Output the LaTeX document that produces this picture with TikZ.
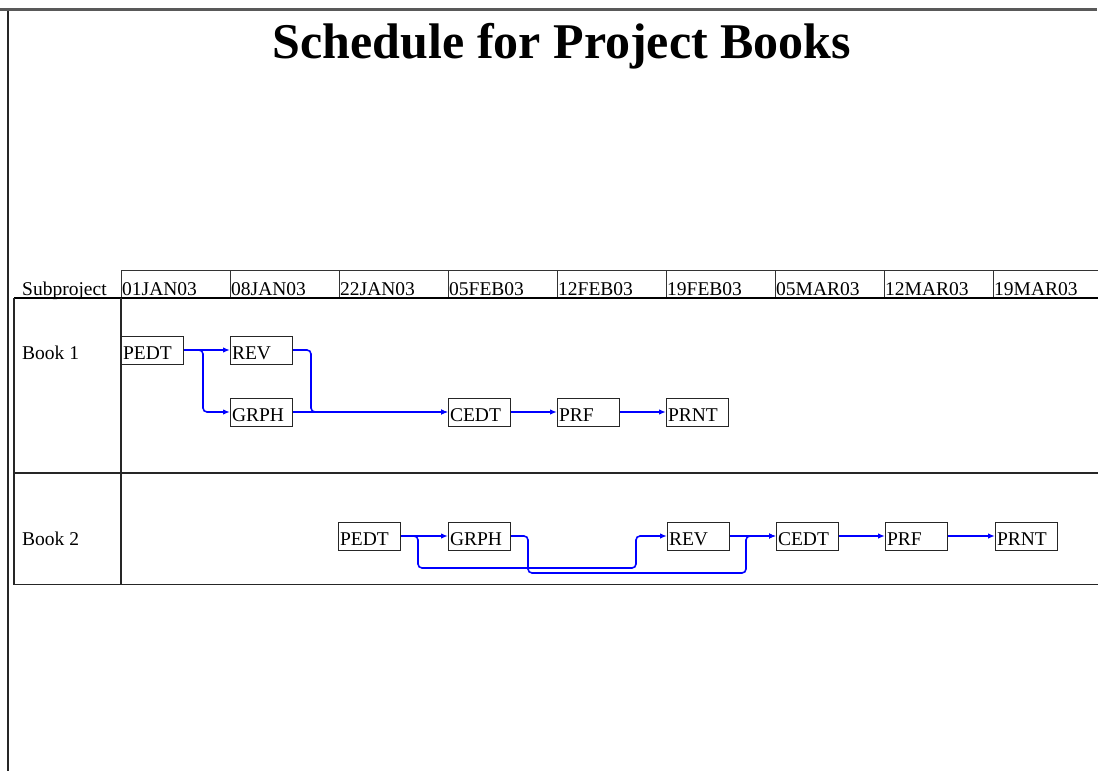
\documentclass[tikz,border=0pt]{standalone}
\usepackage{fontspec}
\setmainfont{Liberation Serif}
\usetikzlibrary{arrows.meta,calc}
\begin{document}
\begin{tikzpicture}[x=1pt,y=-1pt,
  rule/.style={draw=black!85,line width=1.2pt},
  cell/.style={anchor=base west,inner sep=0pt,font=\fontsize{19.5}{20}\selectfont},
  task/.style={draw=black!85,line width=1pt,anchor=north west,inner xsep=1.5pt,inner ysep=0pt,
    text width=59pt,align=left,text height=23.5pt,text depth=4.5pt,
    font=\fontsize{19.5}{20}\selectfont},
  conn/.style={draw=blue,line width=1.6pt,rounded corners=4pt,
    -{Latex[length=7pt,width=5.5pt]}}]
\useasboundingbox (0,0) rectangle (1098,771);
\fill[white] (0,0) rectangle (1098,771);

% page frame
\draw[draw=black!65,line width=2.2pt] (0,9.5) -- (1097,9.5);
\draw[draw=black!85,line width=1.6pt] (8,10.5) -- (8,771);

% title
\node[anchor=base,inner sep=0pt,font=\bfseries\fontsize{50}{52}\selectfont] (title) at (562,58) {Schedule for Project Books};

% header row
\draw[draw=black!80,line width=1pt] (121,270) -- (1098,270);
\foreach \x in {121,230,339,448,557,666,775,884,993}
  \draw[draw=black!80,line width=1pt] (\x,270) -- (\x,298);
\draw[draw=black,line width=1.8pt] (14,298) -- (1098,298);
\node[cell] (hsub) at (22,295) {Subproject};
\foreach \x/\d [count=\i] in {121/01JAN03,230/08JAN03,339/22JAN03,448/05FEB03,557/12FEB03,666/19FEB03,775/05MAR03,884/12MAR03,993/19MAR03}
  \node[cell] (h\i) at (\x+1,295) {\d};

% body grid
\draw[rule] (14,298) -- (14,584.5) -- (1098,584.5);
\draw[rule] (121,298) -- (121,584.5);
\draw[rule] (14,473) -- (1098,473);

% row labels
\node[cell] (book1) at (22,359.5) {Book 1};
\node[cell] (book2) at (22,545.5) {Book 2};

% tasks of Book 1
\node[task] (pa) at (121,335.5) {PEDT};
\node[task] (ra) at (230,335.5) {REV};
\node[task] (ga) at (230,397.5) {GRPH};
\node[task] (ca) at (448,397.5) {CEDT};
\node[task] (fa) at (557,397.5) {PRF};
\node[task] (na) at (666,397.5) {PRNT};

% tasks of Book 2
\node[task] (pb) at (338,521.5) {PEDT};
\node[task] (gb) at (448,521.5) {GRPH};
\node[task] (rb) at (667,521.5) {REV};
\node[task] (cb) at (776,521.5) {CEDT};
\node[task] (fb) at (885,521.5) {PRF};
\node[task] (nb) at (995,521.5) {PRNT};

% dependencies of Book 1
\draw[conn] (pa.east) -- (ra.west);
\draw[conn] (pa.east) -- ++(19,0) |- (ga.west);
\draw[conn] (ra.east) -- ++(18,0) |- (ca.west);
\draw[conn] (ga.east) -- (ca.west);
\draw[conn] (ca.east) -- (fa.west);
\draw[conn] (fa.east) -- (na.west);

% dependencies of Book 2
\draw[conn] (pb.east) -- (gb.west);
\draw[conn] (pb.east) -- ++(17,0) |- ($(rb.west)+(-31,32)$) |- (rb.west);
\draw[conn] (gb.east) -- ++(17,0) |- ($(cb.west)+(-30,37)$) |- (cb.west);
\draw[conn] (rb.east) -- (cb.west);
\draw[conn] (cb.east) -- (fb.west);
\draw[conn] (fb.east) -- (nb.west);
\end{tikzpicture}
\end{document}
